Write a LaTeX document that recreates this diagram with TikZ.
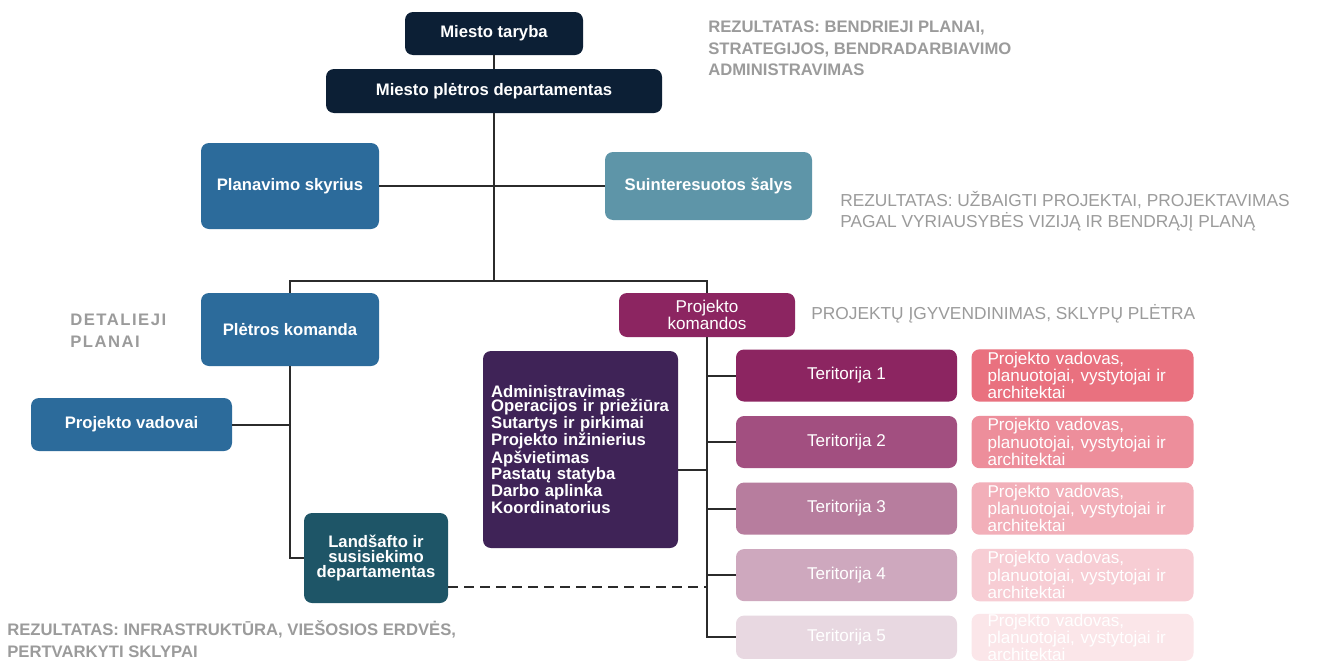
\documentclass[tikz,border=0pt]{standalone}
\usepackage{fontspec}
\setmainfont{Liberation Sans}
\newfontfamily\spacedfont[LetterSpace=9]{Liberation Sans}
\usetikzlibrary{positioning, calc}

\definecolor{navy}{HTML}{0C1F35}
\definecolor{steelblue}{HTML}{2C6B9B}
\definecolor{paleteal}{HTML}{5E95A8}
\definecolor{deepteal}{HTML}{1E5567}
\definecolor{plum}{HTML}{3F2357}
\definecolor{magenta1}{HTML}{8C2561}
\definecolor{magenta2}{HTML}{A24F80}
\definecolor{magenta3}{HTML}{B77D9E}
\definecolor{magenta4}{HTML}{CEA8BE}
\definecolor{magenta5}{HTML}{E8D8E1}
\definecolor{rose1}{HTML}{E9717F}
\definecolor{rose2}{HTML}{ED8E9B}
\definecolor{rose3}{HTML}{F2AFB9}
\definecolor{rose4}{HTML}{F7CDD4}
\definecolor{rose5}{HTML}{FBE6E9}
\definecolor{notegray}{HTML}{9B9B9B}
\definecolor{linkgray}{HTML}{2B2B2B}

\begin{document}
\begin{tikzpicture}[
    x=0.75pt, y=-0.75pt,
    unit/.style={rectangle, rounded corners=6pt, text=white, align=center, inner sep=2pt, font=\bfseries\fontsize{12.5}{10.9}\selectfont},
    territory/.style={unit, minimum width=165.75pt, minimum height=39pt, font=\fontsize{12.8}{10.5}\selectfont},
    staff/.style={unit, minimum width=166.5pt, minimum height=39pt, align=left, text width=142.5pt, inner xsep=12pt, font=\fontsize{12.8}{10.2}\selectfont},
    note/.style={anchor=west, align=left, inner sep=0pt, text=notegray},
    link/.style={draw=linkgray, line width=1.5pt}
]

% Canvas
\fill[white] (0,0) rectangle (1325,664);
\useasboundingbox (0,0) rectangle (1325,664);

% Nodes
\node[unit, fill=navy, minimum width=133.5pt, minimum height=32.25pt] (council) at (494,33.5) {Miesto taryba};
\node[unit, fill=navy, minimum width=252pt, minimum height=33pt] (department) at (494,91) {Miesto plėtros departamentas};
\node[unit, fill=steelblue, minimum width=133.5pt, minimum height=64.5pt] (planning) at (290,186) {Planavimo skyrius};
\node[unit, fill=paleteal, minimum width=155.25pt, minimum height=51pt] (stakeholders) at (708.5,186) {Suinteresuotos šalys};
\node[unit, fill=steelblue, minimum width=133.5pt, minimum height=54.75pt] (devteam) at (290,329.5) {Plėtros komanda};
\node[unit, fill=magenta1, minimum width=132pt, minimum height=33pt, font=\fontsize{12.8}{11.2}\selectfont] (projteams) at (707,315) {Projekto\\komandos};
\node[unit, fill=steelblue, minimum width=150.75pt, minimum height=39.75pt] (managers) at (131.5,424.5) {Projekto vadovai};
\node[unit, fill=deepteal, minimum width=108pt, minimum height=67.5pt] (landscape) at (376,558) {Landšafto ir\\susisiekimo\\departamentas};
\node[unit, fill=plum, minimum width=146.25pt, minimum height=147.75pt, align=left, text width=134pt, inner xsep=6pt] (services) at (580.5,449.5) {Administravimas\\Operacijos ir priežiūra\\Sutartys ir pirkimai\\Projekto inžinierius\\Apšvietimas\\Pastatų statyba\\Darbo aplinka\\Koordinatorius};

\node[territory, fill=magenta1] (terr1) at (846.5,375.5) {Teritorija 1};
\node[territory, fill=magenta2, below=10.5pt of terr1] (terr2) {Teritorija 2};
\node[territory, fill=magenta3, below=10.5pt of terr2] (terr3) {Teritorija 3};
\node[territory, fill=magenta4, below=10.5pt of terr3] (terr4) {Teritorija 4};
\node[territory, fill=magenta5, minimum height=32.5pt, below=10.5pt of terr4] (terr5) {Teritorija 5};

\node[staff, fill=rose1, right=10.5pt of terr1] (crew1) {Projekto vadovas,\\planuotojai, vystytojai ir\\architektai};
\node[staff, fill=rose2, right=10.5pt of terr2] (crew2) {Projekto vadovas,\\planuotojai, vystytojai ir\\architektai};
\node[staff, fill=rose3, right=10.5pt of terr3] (crew3) {Projekto vadovas,\\planuotojai, vystytojai ir\\architektai};
\node[staff, fill=rose4, right=10.5pt of terr4] (crew4) {Projekto vadovas,\\planuotojai, vystytojai ir\\architektai};
\node[staff, fill=rose5, minimum height=32.5pt, inner ysep=0pt, font=\fontsize{12.8}{9.8}\selectfont, right=10.5pt of terr5] (crew5) {Projekto vadovas,\\planuotojai, vystytojai ir\\architektai};

% Notes
\node[note, font=\bfseries\fontsize{12.5}{16.3}\selectfont] (resultplans) at (708,48.5) {REZULTATAS: BENDRIEJI PLANAI,\\STRATEGIJOS, BENDRADARBIAVIMO\\ADMINISTRAVIMAS};
\node[note, font=\fontsize{13}{15.8}\selectfont] (resultprojects) at (840,211.5) {REZULTATAS: UŽBAIGTI PROJEKTAI, PROJEKTAVIMAS\\PAGAL VYRIAUSYBĖS VIZIJĄ IR BENDRĄJĮ PLANĄ};
\node[note, font=\fontsize{13}{15.8}\selectfont] (delivery) at (811,314) {PROJEKTŲ ĮGYVENDINIMAS, SKLYPŲ PLĖTRA};
\node[note, font=\spacedfont\bfseries\fontsize{12.5}{16.5}\selectfont] (detailed) at (70,331) {DETALIEJI\\PLANAI};
\node[note, font=\bfseries\fontsize{12.5}{16.5}\selectfont] (resultinfra) at (7,639) {REZULTATAS: INFRASTRUKTŪRA, VIEŠOSIOS ERDVĖS,\\PERTVARKYTI SKLYPAI};

% Connections
\coordinate (hub) at (494,281);
\draw[link] (council) -- (department);
\draw[link] (department) -- (hub);
\draw[link] (planning) -- (stakeholders);
\draw[link] (devteam.north) |- (hub) -| (projteams.north);
\draw[link] (devteam.south) |- (landscape.west);
\draw[link] (managers.east) -- (managers.east -| devteam.south);
\draw[link] (projteams.south) |- (terr5.west);
\draw[link] (terr1.west) -- (terr1.west -| projteams.south);
\draw[link] (terr2.west) -- (terr2.west -| projteams.south);
\draw[link] (terr3.west) -- (terr3.west -| projteams.south);
\draw[link] (terr4.west) -- (terr4.west -| projteams.south);
\draw[link] ([yshift=-15pt]services.east) coordinate (servicesout) -- (servicesout -| projteams.south);
\draw[link, dashed, dash pattern=on 7pt off 5pt] ([yshift=-21.75pt]landscape.east) coordinate (landout) -- (landout -| projteams.south);

\end{tikzpicture}
\end{document}
